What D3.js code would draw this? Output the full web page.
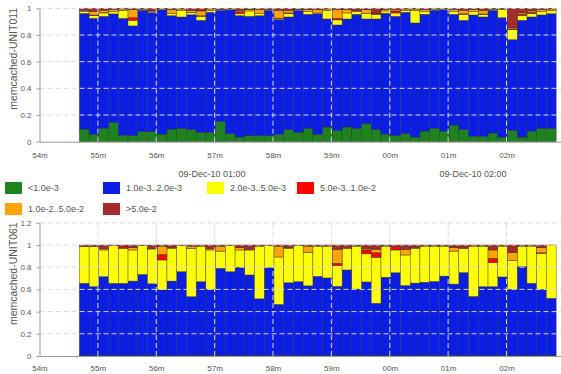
<!DOCTYPE html>
<html lang="en">
<head>
<meta charset="utf-8">
<title>memcached latency buckets</title>
<style>
  body { margin: 0; background: #fff; font-family: Arial, "Liberation Sans", sans-serif; }
  .axis text { fill: #555; font-size: 8px; }
  .axis path, .axis line { stroke: #999; }
  .grid line { stroke: #d8d8d8; stroke-dasharray: 5,3; }
  .legend text, .datelabel { fill: #555; font-size: 9px; }
  .ytitle { fill: #555; font-size: 10.5px; }
</style>
</head>
<body>
<div id="chart"></div>
<script src="https://d3js.org/d3.v7.min.js"></script>
<script>
// latency buckets, bottom to top of each bar
var bucketLabels = ["<1.0e-3", "1.0e-3..2.0e-3", "2.0e-3..5.0e-3", "5.0e-3..1.0e-2", "1.0e-2..5.0e-2", ">5.0e-2"];
var bucketColors = ["#1d831d", "#0a1ee8", "#ffff00", "#ff0000", "#ffa500", "#a52a2a"];

// one bar every 10 seconds, first one at 00:54:41
var firstBar = new Date(2010, 11, 9, 0, 54, 41);
var barCount = 49;
var yTicksTop = [0, 0.2, 0.4, 0.6, 0.8, 1];
var yTicksBottom = [0, 0.2, 0.4, 0.6, 0.8, 1, 1.2];
var dateLabels = ["09-Dec-10 01:00", "09-Dec-10 02:00"];

// memcached-UNIT011
var u011Green  = [.095,.055,.10,.143,.048,.045,.075,.075,.055,.095,.10,.09,.07,.07,.15,.06,.035,.045,.045,.045,.055,.09,.07,.10,.055,.11,.085,.11,.10,.135,.09,.055,.045,.06,.035,.08,.10,.08,.125,.09,.04,.04,.065,.035,.085,.035,.08,.10,.10];
var u011Blue   = [.867,.87,.84,.815,.877,.823,.91,.893,.935,.85,.835,.862,.84,.90,.835,.93,.91,.895,.90,.94,.86,.845,.915,.855,.905,.81,.79,.81,.855,.785,.83,.908,.895,.91,.855,.875,.885,.91,.83,.82,.91,.895,.92,.895,.68,.875,.855,.85,.86];
var u011Yellow = [.013,.02,.025,.02,.06,.042,.005,.007,.005,.017,.05,.016,.03,.015,.005,.005,.015,.04,.015,.005,.005,.025,.005,.02,.005,.065,.038,.045,.02,.043,.035,.017,.025,.015,.095,.02,.008,.005,.02,.045,.025,.02,.005,.06,.075,.035,.025,.025,.025];
var u011Red    = [0,.005,.002,0,0,.02,0,0,0,0,0,.002,.005,0,0,0,.015,0,0,0,.005,.005,0,0,0,0,.012,0,0,0,.003,0,.015,0,0,0,0,0,0,.005,0,.003,0,0,.005,.01,.01,0,0];
var u011Orange = [.01,.025,.018,.012,.01,.06,.005,.005,.002,.028,.01,.015,.035,.01,.003,.002,.01,.01,.03,.003,.06,.02,.003,.015,.025,.01,.065,.025,.005,.027,.004,.01,.01,.01,.01,.015,.004,.002,.015,.025,.015,.027,.005,.005,.008,.01,.01,.015,.01];
var u011Brown  = [.015,.025,.015,.01,.005,.01,.005,.02,.003,.01,.005,.015,.02,.005,.007,.003,.015,.01,.01,.007,.015,.015,.007,.01,.01,.005,.01,.01,.02,.01,.038,.01,.01,.005,.005,.01,.003,.003,.01,.015,.01,.015,.005,.005,.147,.035,.02,.01,.005];

// memcached-UNIT061
var u061Green  = [.005,.005,.005,.005,.005,.005,.005,.005,.005,.005,.005,.005,.005,.005,.005,.005,.005,.005,.005,.005,.005,.005,.005,.005,.005,.005,.005,.005,.005,.005,.005,.005,.005,.005,.005,.005,.005,.005,.005,.005,.005,.005,.005,.005,.005,.005,.005,.005,.005];
var u061Blue   = [.65,.62,.71,.65,.65,.67,.73,.645,.59,.67,.755,.53,.665,.595,.785,.755,.795,.725,.51,.79,.46,.655,.665,.627,.713,.698,.623,.77,.598,.662,.47,.705,.745,.63,.652,.66,.667,.715,.643,.747,.532,.62,.62,.707,.597,.80,.65,.595,.515];
var u061Yellow = [.33,.36,.24,.34,.315,.28,.26,.314,.27,.295,.235,.435,.315,.355,.155,.235,.155,.225,.475,.2,.427,.31,.325,.303,.272,.287,.187,.195,.387,.253,.415,.28,.205,.275,.313,.325,.318,.27,.297,.218,.453,.365,.215,.278,.258,.185,.335,.325,.48];
var u061Red    = [0,0,0,0,.02,0,0,0,.05,0,0,0,0,0,0,0,0,0,0,0,0,0,0,0,0,0,.02,0,0,.035,.04,0,.03,0,0,0,0,0,0,0,0,0,.04,0,0,0,0,.005,0];
var u061Orange = [0,0,.01,0,0,.02,0,.006,.075,.005,0,.02,.01,.01,.045,0,.02,.005,0,0,.098,.005,0,.055,0,0,.125,0,0,.01,.03,0,0,.05,.005,0,0,0,.03,0,0,0,.075,0,.07,0,.003,.045,0];
var u061Brown  = [.015,.015,.035,.005,.01,.025,.005,.03,.01,.025,.005,.01,.005,.035,.01,.005,.025,.04,.01,.005,.01,.025,.005,.01,.01,.01,.04,.03,.01,.035,.04,.01,.015,.04,.025,.01,.01,.01,.025,.03,.01,.01,.045,.01,.07,.01,.007,.025,0];

var width = 561, height = 374;

var svg = d3.select("#chart").append("svg")
    .attr("width", width)
    .attr("height", height);

var x = d3.scaleTime()
    .domain([new Date(2010, 11, 9, 0, 54, 0), new Date(2010, 11, 9, 1, 2, 56)])
    .range([39.5, 561]);

var barTimes = d3.range(barCount).map(function(i) { return d3.timeSecond.offset(firstBar, i * 10); });
var minuteTicks = d3.timeMinute.range(x.domain()[0], d3.timeSecond.offset(x.domain()[1], 1));
var keys = bucketLabels.map(function(d, i) { return "b" + i; });

function drawPanel(top, bottom, yMax, yTicks, title, series, labelPad) {
    var y = d3.scaleLinear().domain([0, yMax]).range([bottom, top]);
    var g = svg.append("g");

    var rows = barTimes.map(function(t, i) {
        var r = { t: t };
        keys.forEach(function(k, j) { r[k] = series[j][i]; });
        return r;
    });
    var stacked = d3.stack().keys(keys)(rows);

    g.append("g").selectAll("g")
        .data(stacked)
        .join("g")
        .attr("fill", function(d, i) { return bucketColors[i]; })
        .selectAll("rect")
        .data(function(d) { return d; })
        .join("rect")
        .attr("x", function(d) { return x(d.data.t); })
        .attr("width", function(d) { return x(d3.timeSecond.offset(d.data.t, 10)) - x(d.data.t); })
        .attr("y", function(d) { return y(d[1]); })
        .attr("height", function(d) { return Math.max(0, y(d[0]) - y(d[1])); })
        .attr("stroke", "#2a2a2a")
        .attr("stroke-width", 0.4);

    // dashed grid on top of the bars
    var grid = g.append("g").attr("class", "grid");
    grid.selectAll("line.h")
        .data(yTicks.filter(function(v) { return v > 0; }))
        .join("line")
        .attr("class", "h")
        .attr("x1", x.range()[0]).attr("x2", x.range()[1])
        .attr("y1", function(d) { return y(d); })
        .attr("y2", function(d) { return y(d); });
    grid.selectAll("line.v")
        .data(minuteTicks.slice(1))
        .join("line")
        .attr("class", "v")
        .attr("x1", function(d) { return x(d); })
        .attr("x2", function(d) { return x(d); })
        .attr("y1", bottom).attr("y2", top);

    g.append("g")
        .attr("class", "axis")
        .attr("transform", "translate(0," + bottom + ")")
        .call(d3.axisBottom(x).tickValues(minuteTicks).tickFormat(d3.timeFormat("%Mm")).tickSize(0).tickPadding(labelPad));

    g.append("g")
        .attr("class", "axis")
        .attr("transform", "translate(" + x.range()[0] + ",0)")
        .call(d3.axisLeft(y).tickValues(yTicks).tickFormat(d3.format("~g")).tickSize(3).tickSizeOuter(0).tickPadding(5));

    g.append("text")
        .attr("class", "ytitle")
        .attr("transform", "translate(17," + (top - 0.5) + ") rotate(-90)")
        .attr("text-anchor", "end")
        .text(title);
}

drawPanel(8.3, 141.7, 1, yTicksTop, "memcached-UNIT011",
    [u011Green, u011Blue, u011Yellow, u011Red, u011Orange, u011Brown], 11);
drawPanel(222.8, 356, 1.2, yTicksBottom, "memcached-UNIT061",
    [u061Green, u061Blue, u061Yellow, u061Red, u061Orange, u061Brown], 9);

// day/hour labels under the first panel
svg.selectAll("text.datelabel")
    .data(dateLabels)
    .join("text")
    .attr("class", "datelabel")
    .attr("x", function(d, i) { return [212, 473][i]; })
    .attr("y", 177)
    .attr("text-anchor", "middle")
    .text(function(d) { return d; });

// legend, four per row
var legendCols = [5, 103, 207, 297];
var legend = svg.append("g").attr("class", "legend")
    .selectAll("g")
    .data(bucketLabels)
    .join("g")
    .attr("transform", function(d, i) {
        return "translate(" + legendCols[i % 4] + "," + (182 + Math.floor(i / 4) * 21) + ")";
    });
legend.append("rect")
    .attr("width", 17).attr("height", 12)
    .attr("fill", function(d, i) { return bucketColors[i]; });
legend.append("text")
    .attr("x", 23).attr("y", 9)
    .text(function(d) { return d; });
</script>
</body>
</html>
